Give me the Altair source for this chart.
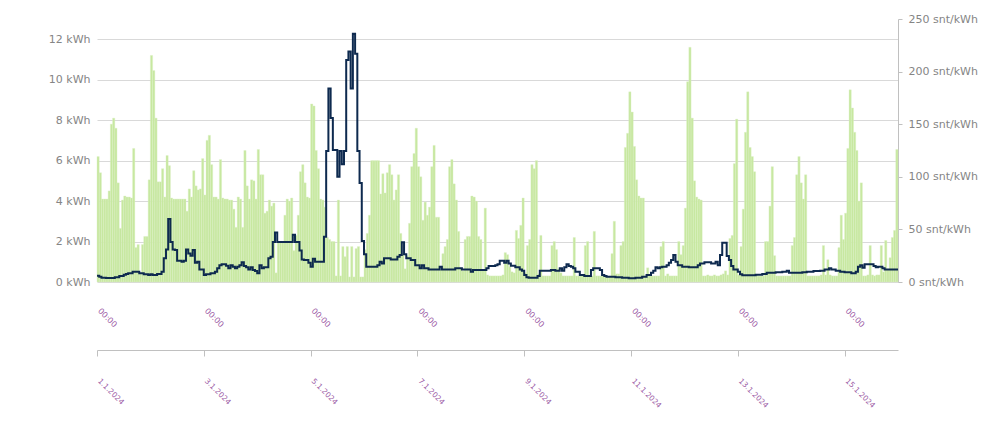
import altair as alt
import pandas as pd

# Hourly consumption (kWh), 1.1.2024 00:00 -> 15.1.2024 23:00, one row per day
kwh = [
    6.2, 5.4, 4.1, 4.1, 4.1, 4.5, 7.8, 8.1, 7.6, 4.9, 2.65, 4.05, 4.25, 4.2, 4.2, 4.15, 6.6, 1.7, 1.85, 0.4, 1.85, 2.25, 2.25, 5.05,
    11.2, 10.45, 8.1, 4.95, 4.95, 5.6, 4.2, 6.25, 5.75, 4.15, 4.1, 4.1, 4.1, 4.1, 4.1, 4.1, 3.5, 4.6, 4.2, 5.5, 4.75, 4.55, 4.6, 6.1,
    4.3, 7.0, 7.25, 5.8, 4.2, 4.2, 4.1, 6.05, 4.15, 4.1, 4.1, 4.05, 4.05, 3.6, 2.7, 4.2, 4.1, 2.7, 6.5, 4.75, 4.1, 5.05, 5.0, 4.1,
    6.55, 5.3, 5.3, 3.4, 3.5, 4.05, 3.75, 3.9, 0.45, 2.0, 2.0, 2.0, 3.3, 4.1, 4.0, 4.15, 1.55, 2.3, 3.3, 5.45, 5.8, 4.9, 4.2, 4.15,
    8.8, 8.7, 6.5, 5.6, 4.1, 4.05, 3.7, 2.2, 2.1, 2.0, 2.0, 0.3, 4.05, 0.3, 1.75, 1.25, 1.75, 0.25, 1.75, 0.25, 1.65, 1.75, 0.25, 0.25,
    1.6, 2.4, 3.3, 6.0, 6.0, 6.0, 6.0, 4.35, 5.35, 4.4, 5.4, 5.8, 5.3, 4.05, 4.55, 5.3, 2.4, 1.4, 0.65, 1.3, 2.9, 5.7, 6.35, 7.6,
    5.7, 5.2, 3.05, 3.95, 3.3, 3.7, 5.7, 6.75, 3.2, 3.2, 0.6, 1.4, 1.75, 2.1, 5.7, 6.05, 4.85, 4.05, 2.5, 0.7, 0.55, 2.1, 2.25, 2.25,
    4.25, 4.2, 4.0, 2.25, 2.1, 0.6, 3.65, 0.35, 0.3, 0.3, 0.3, 0.3, 0.3, 0.3, 0.35, 1.45, 1.35, 0.75, 0.5, 0.45, 2.55, 2.15, 2.8, 4.15,
    0.45, 1.8, 2.1, 5.8, 5.6, 6.0, 0.4, 2.3, 0.3, 0.3, 0.3, 0.3, 1.8, 2.0, 1.6, 0.65, 0.45, 0.3, 0.3, 0.3, 0.3, 0.3, 2.2, 0.3,
    0.3, 0.3, 0.3, 1.8, 2.0, 0.3, 0.3, 2.5, 0.3, 0.3, 0.3, 0.3, 0.25, 0.25, 0.25, 1.4, 3.0, 0.4, 0.4, 1.8, 2.0, 6.65, 7.35, 9.4,
    8.4, 6.7, 5.05, 4.25, 4.15, 4.15, 0.3, 0.7, 0.3, 0.3, 0.3, 0.3, 0.3, 1.75, 2.0, 0.3, 0.4, 0.3, 0.3, 0.3, 0.3, 2.0, 1.35, 1.8,
    3.65, 9.9, 11.6, 8.1, 5.0, 4.2, 4.1, 4.05, 0.3, 0.3, 0.35, 0.3, 0.3, 0.35, 0.3, 0.3, 0.35, 0.4, 0.55, 0.35, 2.15, 2.3, 5.85, 8.05,
    0.35, 1.75, 3.6, 7.4, 9.4, 6.65, 6.2, 5.45, 0.35, 0.3, 0.3, 0.3, 2.0, 2.0, 3.75, 5.7, 1.3, 0.3, 0.3, 0.3, 0.3, 0.3, 0.3, 0.3,
    1.8, 2.2, 5.3, 6.2, 4.9, 4.1, 5.3, 0.3, 0.3, 0.3, 0.3, 0.3, 0.3, 0.35, 1.8, 0.35, 1.1, 0.35, 0.3, 0.3, 0.3, 1.7, 3.3, 2.1,
    3.4, 6.6, 9.5, 8.6, 7.4, 6.5, 4.0, 4.9, 0.3, 0.3, 0.35, 1.8, 0.35, 0.3, 0.35, 0.35, 1.8, 0.5, 2.05, 0.6, 1.2, 2.2, 2.55, 6.55,
]

# Hourly spot price (snt/kWh)
price = [
    6.0, 5.1, 4.1, 4.1, 3.8, 3.8, 3.8, 3.8, 4.4, 4.4, 5.7, 5.7, 7.0, 7.6, 8.2, 8.2, 9.8, 9.8, 9.8, 8.2, 8.2, 7.3, 7.3, 6.7,
    7.3, 6.7, 6.7, 7.6, 7.6, 9.8, 22.5, 31, 60, 38, 31, 30.4, 20.3, 20.3, 19.3, 20.3, 31, 27, 25, 30.4, 18.4, 19.3, 12, 12,
    6.7, 7.3, 7.3, 8.2, 8.2, 9.8, 13, 16, 16.8, 16.8, 15.5, 13, 16, 14.6, 13, 14.6, 16, 18.7, 15.2, 14, 12, 14, 11.4, 10.5,
    8.2, 16, 13, 14, 14, 22.5, 24, 38, 47, 38, 38, 38, 38, 38, 38, 38, 45, 38, 38, 30, 21.5, 21, 21, 18.4,
    14.6, 22, 19.3, 19.3, 19.3, 19.3, 43, 124.5, 184, 156, 125.5, 125.5, 100, 124.5, 112, 124.5, 211, 219, 184, 236, 217, 124.5, 94, 39,
    26.3, 14.6, 14.6, 14.6, 14.6, 14.6, 16, 19.3, 17.7, 22.5, 22.5, 22.5, 21.5, 21.5, 21.5, 24, 25.7, 37.7, 26.3, 22.5, 22.5, 21, 21, 16,
    16, 13, 16, 13, 13, 12, 12, 12, 12, 12, 14.6, 12, 12, 12, 12, 12, 12, 13, 13, 13, 12, 12, 12, 12,
    9.8, 11.4, 11.4, 11.4, 11.4, 11.4, 11.4, 13, 15.2, 15.2, 15.2, 16, 16.8, 20.3, 20.3, 18.4, 20.3, 17.7, 15.5, 15.5, 14, 14, 12, 10.8,
    6.7, 4.4, 4.1, 4.1, 4.1, 4.1, 5.7, 10.8, 10.8, 10.8, 10.8, 10.8, 11.4, 11.4, 10.8, 10.8, 13, 10.8, 14, 16.8, 15.2, 14.6, 13, 9.8,
    9.8, 6.7, 6.7, 5.7, 5.7, 5.7, 11.4, 13, 13, 13, 11.4, 6.7, 5.7, 5.1, 5.1, 5.1, 5.1, 4.4, 4.4, 4.4, 4.1, 4.1, 4.1, 3.5,
    3.5, 3.5, 4.1, 4.1, 4.1, 5.1, 5.1, 6.7, 6.7, 8.9, 10.8, 14, 13, 14, 14.6, 14.6, 16, 18.4, 21, 25.7, 19.3, 16, 16, 14.6,
    14.6, 14.6, 14, 14, 14, 14, 16, 17.7, 17.7, 18.7, 18.7, 18.7, 17.7, 17.7, 19.3, 16, 25.7, 37.4, 37.4, 24.7, 21, 15.2, 12, 12,
    9.8, 7.3, 6.3, 6.3, 6.3, 6.3, 6.3, 6.3, 7, 7, 7, 7.6, 7.6, 8.9, 8.9, 8.9, 8.9, 9.2, 9.2, 9.2, 9.8, 9.8, 10.8, 8.9,
    8.9, 8.9, 8.9, 8.9, 8.9, 9.2, 9.2, 9.8, 9.8, 9.8, 10.5, 10.5, 10.5, 10.8, 10.8, 12, 12, 13, 12, 12, 10.8, 10.8, 9.8, 9.8,
    9.2, 9.2, 9.2, 8.2, 8.2, 9.8, 14.6, 16, 13.6, 16.8, 16.8, 16.8, 16.8, 15.2, 14, 14.6, 14.6, 13, 12, 12, 12, 12, 12, 12,
]

tick_days = [1, 3, 5, 7, 9, 11, 13, 15]
kwh_ticks = [0, 2, 4, 6, 8, 10, 12]
price_ticks = [0, 50, 100, 150, 200, 250]

FMT = "%Y-%m-%dT%H:%M:%S"
hours = pd.date_range("2024-01-01 00:00", periods=len(kwh), freq="h")
bars_df = pd.DataFrame({
    "start": hours.strftime(FMT),
    "end": (hours + pd.Timedelta(hours=1)).strftime(FMT),
    "kwh": kwh,
})
line_times = list(hours.strftime(FMT)) + [(hours[-1] + pd.Timedelta(hours=1)).strftime(FMT)]
line_df = pd.DataFrame({"t": line_times, "price": price + [price[-1]]})

PURPLE = "#9b5aa5"
GREY = "#858585"
LINEGREY = "#c0c0c0"
FONT = "DejaVu Sans"

x_scale = alt.Scale(
    domain=[alt.DateTime(year=2024, month=1, date=1), alt.DateTime(year=2024, month=1, date=16)],
    nice=False,
)
tick_vals = [alt.DateTime(year=2024, month=1, date=d) for d in tick_days]

date_axis = alt.Axis(
    orient="bottom", values=tick_vals, format="%-d.%-m.%Y", title=None,
    labelAngle=45, labelAlign="left", labelBaseline="alphabetic",
    labelFontSize=7.5, labelColor=PURPLE, labelFont=FONT,
    labelOverlap=False, labelFlush=False,
    offset=68, domain=True, domainColor=LINEGREY, ticks=True, tickColor=LINEGREY,
    tickSize=6, labelPadding=25, grid=False,
)
time_axis = alt.Axis(
    orient="bottom", values=tick_vals, format="%H:%M", title=None,
    labelAngle=45, labelAlign="left", labelBaseline="alphabetic",
    labelFontSize=8, labelColor=PURPLE, labelFont=FONT,
    labelOverlap=False, labelFlush=False,
    offset=0, domain=False, ticks=False, tickSize=0, labelPadding=29, grid=False,
)

bars = alt.Chart(bars_df).mark_rect(
    color="#c7e8a0", stroke="#dcefc6", strokeWidth=0.4
).encode(
    x=alt.X("start:T", scale=x_scale, axis=date_axis),
    x2="end:T",
    y=alt.Y(
        "kwh:Q",
        scale=alt.Scale(domain=[0, 13], nice=False),
        axis=alt.Axis(
            orient="left", values=kwh_ticks, labelExpr="datum.value + ' kWh'", title=None,
            grid=True, gridColor="#d9d9d9", domain=False, ticks=False, tickSize=0,
            labelPadding=7, labelFontSize=11, labelColor=GREY, labelFont=FONT,
        ),
    ),
    y2=alt.datum(0),
)

line = alt.Chart(line_df).mark_line(
    interpolate="step-after", color="#0e2a4f", strokeWidth=2.0
).encode(
    x=alt.X("t:T", scale=x_scale, axis=time_axis),
    y=alt.Y(
        "price:Q",
        scale=alt.Scale(domain=[0, 250], nice=False),
        axis=alt.Axis(
            orient="right", values=price_ticks, labelExpr="datum.value + ' snt/kWh'", title=None,
            grid=False, domain=True, domainColor=LINEGREY, ticks=True, tickColor=LINEGREY,
            tickSize=4, labelPadding=6, labelFontSize=11, labelColor=GREY, labelFont=FONT,
        ),
    ),
)

chart = alt.layer(bars, line).resolve_scale(y="independent").resolve_axis(
    x="independent", y="independent"
).properties(
    width=801, height=263,
    autosize=alt.AutoSizeParams(type="none"),
    padding={"left": 89, "top": 11, "right": 91, "bottom": 136},
).configure(font=FONT).configure_view(stroke=None)

chart.save("out.html", embed_options={"renderer": "svg", "actions": False})
